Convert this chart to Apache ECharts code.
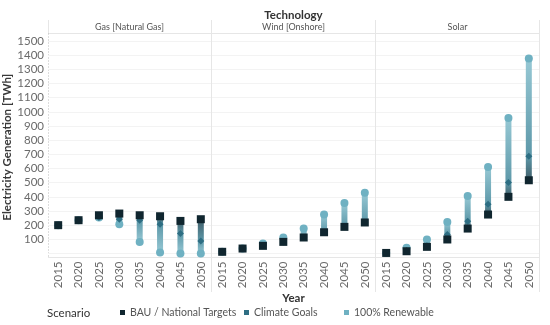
<!DOCTYPE html>
<html><head><meta charset="utf-8">
<script src="https://cdn.jsdelivr.net/npm/echarts@6/dist/echarts.min.js"></script>
<style>html,body{margin:0;padding:0;background:#fff}#c{width:550px;height:325px}</style>
</head><body><div id="c"></div>
<script>
const years = ['2015','2020','2025','2030','2035','2040','2045','2050'];
const panels = ['Gas [Natural Gas]','Wind [Onshore]','Solar'];
const gasBAU      = [200,235,270,282,270,263,230,242];
const gasClimate  = [200,235,255,242,235,207,141,89];
const gasRenew    = [200,235,255,207,82,7,0,0];
const windBAU     = [12,35,54,82,113,150,188,219];
const windClimate = [12,35,54,82,113,150,188,219];
const windRenew   = [12,35,70,113,176,275,357,428];
const solarBAU     = [4,16,47,99,176,275,400,517];
const solarClimate = [4,22,55,134,228,348,501,687];
const solarRenew   = [4,40,99,223,406,611,957,1376];
const yTicks = [100,200,300,400,500,600,700,800,900,1000,1100,1200,1300,1400,1500];
const scenarios = ['BAU / National Targets','Climate Goals','100% Renewable'];

const FONT = 'Lato';
const cBAU = '#10262f', cCli = '#2e6e83', cRen = '#6fb1c2';
const gDark = '#30505c', gMid = '#4f8fa1', gLight = '#8ec4d1';
const data = [[gasBAU,gasClimate,gasRenew],[windBAU,windClimate,windRenew],[solarBAU,solarClimate,solarRenew]];
const lefts = [48, 212, 376];
const PW = 163;

function renderRange(params, api){
  const i = api.value(0), b = api.value(1), c = api.value(2), r = api.value(3);
  const pb = api.coord([i,b]), pc = api.coord([i,c]), pr = api.coord([i,r]);
  const top = Math.min(pb[1],pr[1]), bot = Math.max(pb[1],pr[1]);
  if (bot-top < 1) return null;
  const bauTop = pb[1] <= pr[1];
  let f = (pc[1]-top)/(bot-top); f = Math.max(0.001, Math.min(0.999, f));
  const stops = bauTop ? [{offset:0,color:gDark},{offset:f,color:gMid},{offset:1,color:gLight}]
                       : [{offset:0,color:gLight},{offset:f,color:gMid},{offset:1,color:gDark}];
  const w = 6;
  return {type:'rect', shape:{x:pb[0]-w/2, y:top, width:w, height:bot-top},
          style:{fill:new echarts.graphic.LinearGradient(0,0,0,1,stops), opacity:0.92}};
}

const grids = [], xAxes = [], yAxes = [], series = [];
for (let p=0;p<3;p++){
  grids.push({left:lefts[p], top:41, width:PW, height:212.5, containLabel:false});
  xAxes.push({type:'category', gridIndex:p, data:years, boundaryGap:true,
    axisLine:{show:false}, axisTick:{show:false},
    axisLabel:{rotate:90, margin:8, color:'#6a6a6a', fontSize:11.5, fontFamily:FONT}});
  yAxes.push({type:'value', gridIndex:p, min:0, max:1500, interval:100,
    name: p===0 ? 'Electricity Generation [TWh]' : '', nameLocation:'middle', nameRotate:90, nameGap:34,
    nameTextStyle:{color:'#3a3a3a', fontSize:11.5, fontFamily:FONT, fontWeight:'bold'},
    axisLine:{show:false}, axisTick:{show:false},
    axisLabel:{show:p===0, color:'#6a6a6a', fontSize:11.5, fontFamily:FONT, margin:4,
      formatter: v => yTicks.indexOf(v)>=0 ? String(v) : ''},
    splitLine:{show:true, lineStyle:{color:'#f3f3f3', width:1}}});
  const [b,c,r] = data[p];
  series.push({type:'custom', xAxisIndex:p, yAxisIndex:p, renderItem:renderRange,
    encode:{x:0, y:[1,2,3]}, data: years.map((y,i)=>[i,b[i],c[i],r[i]]), z:1, silent:true});
  series.push({type:'scatter', name:scenarios[2], xAxisIndex:p, yAxisIndex:p, symbol:'circle', symbolSize:8,
    itemStyle:{color:cRen, opacity:1}, data:r.map((v,i)=>[i,v]), z:2});
  series.push({type:'scatter', name:scenarios[1], xAxisIndex:p, yAxisIndex:p, symbol:'diamond', symbolSize:7,
    itemStyle:{color:cCli, opacity:1}, data:c.map((v,i)=>[i,v]), z:3});
  series.push({type:'scatter', name:scenarios[0], xAxisIndex:p, yAxisIndex:p, symbol:'rect', symbolSize:8,
    itemStyle:{color:cBAU, opacity:1}, data:b.map((v,i)=>[i,v]), z:4});
}

const lineC = '#e6e6e6';
const graphic = [
  {type:'line', shape:{x1:48,y1:33.5,x2:539.5,y2:33.5}, style:{stroke:lineC,lineWidth:1}, silent:true},
  {type:'line', shape:{x1:48,y1:257.5,x2:539.5,y2:257.5}, style:{stroke:lineC,lineWidth:1}, silent:true},
  {type:'line', shape:{x1:48.5,y1:20,x2:48.5,y2:33.5}, style:{stroke:lineC,lineWidth:1}, silent:true},
  {type:'line', shape:{x1:48.5,y1:33.5,x2:48.5,y2:257.5}, style:{stroke:'#bbbbbb',lineWidth:1,lineDash:[1,2]}, silent:true},
  {type:'line', shape:{x1:211.5,y1:20,x2:211.5,y2:292}, style:{stroke:lineC,lineWidth:1}, silent:true},
  {type:'line', shape:{x1:375.5,y1:20,x2:375.5,y2:292}, style:{stroke:lineC,lineWidth:1}, silent:true},
  {type:'line', shape:{x1:539.5,y1:20,x2:539.5,y2:292}, style:{stroke:lineC,lineWidth:1}, silent:true},
  {type:'text', style:{text:'Technology', x:293.5, y:15, align:'center', verticalAlign:'middle', fill:'#333', font:'bold 11.5px '+FONT}},
  {type:'text', style:{text:'Year', x:293.5, y:298, align:'center', verticalAlign:'middle', fill:'#333', font:'bold 11.5px '+FONT}},
  {type:'text', style:{text:'Scenario', x:47, y:313, align:'left', verticalAlign:'middle', fill:'#333', font:'11.5px '+FONT}}
];
for (let p=0;p<3;p++){
  graphic.push({type:'text', style:{text:panels[p], x:lefts[p]+PW/2, y:27, align:'center', verticalAlign:'middle',
    fill:'#555', font:'9px '+FONT}});
}

const legendLefts = [120, 244, 344];
const legends = scenarios.map((s,i)=>({
  data:[{name:s, icon:'rect'}], left:legendLefts[i], top:307, padding:0, itemWidth:5, itemHeight:5, itemGap:5,
  textStyle:{color:'#555', fontSize:10.5, fontFamily:FONT}, selectedMode:false
}));

const chart = echarts.init(document.getElementById('c'), null, {renderer:'canvas'});
chart.setOption({
  animation:false, backgroundColor:'#fff',
  grid:grids, xAxis:xAxes, yAxis:yAxes, series:series, legend:legends, graphic:graphic,
  color:[cBAU,cCli,cRen]
});
</script></body></html>
